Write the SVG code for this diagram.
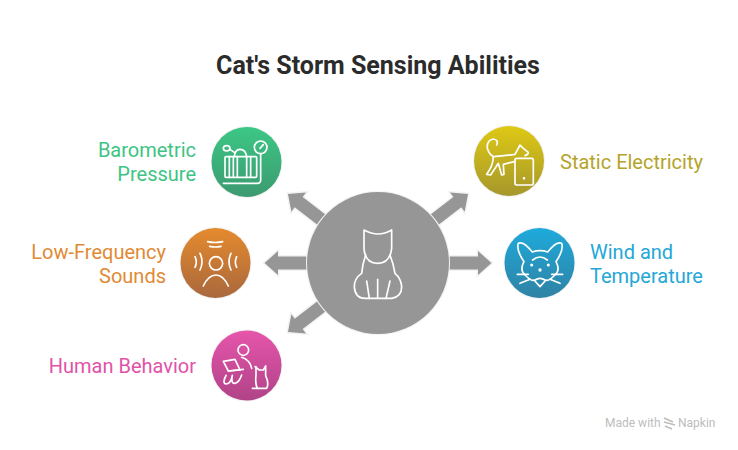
<svg xmlns="http://www.w3.org/2000/svg" width="738" height="450" viewBox="0 0 738 450">
<style>
text{font-family:Roboto,"Liberation Sans",sans-serif}
.title{font-size:25px;font-weight:700;fill:#2b2b2b;text-anchor:middle}
.lbl{font-size:20px;font-weight:400}
.e{text-anchor:end}
.disc{stroke:#f3f3f3;stroke-width:2;paint-order:stroke}
.ic{fill:none;stroke:#fff;stroke-width:5;stroke-linecap:round;stroke-linejoin:round}
.dot{fill:#fff}
.arrow{fill:#969696;stroke:#f3f3f3;stroke-width:3;stroke-linejoin:miter;paint-order:stroke}
.wm{font-size:12px;font-weight:400;fill:#bdbdbd}
</style>
<defs>
<linearGradient id="gG" x1="0" y1="0" x2="0" y2="1"><stop offset="0" stop-color="#3cc785"/><stop offset="1" stop-color="#3c9a70"/></linearGradient>
<linearGradient id="gO" x1="0" y1="0" x2="0" y2="1"><stop offset="0" stop-color="#e58b2e"/><stop offset="1" stop-color="#a9683d"/></linearGradient>
<linearGradient id="gP" x1="0" y1="0" x2="0" y2="1"><stop offset="0" stop-color="#e655ab"/><stop offset="1" stop-color="#b04388"/></linearGradient>
<linearGradient id="gY" x1="0" y1="0" x2="0" y2="1"><stop offset="0" stop-color="#dec914"/><stop offset="1" stop-color="#a6972c"/></linearGradient>
<linearGradient id="gB" x1="0" y1="0" x2="0" y2="1"><stop offset="0" stop-color="#1eaadb"/><stop offset="1" stop-color="#3082a4"/></linearGradient>
<path id="arr" d="M50-6.500H100V-12L113.500 0L100 12V6.500H50Z"/>
</defs>
<rect width="738" height="450" fill="#fff"/>
<text class="title" x="378" y="74">Cat's Storm Sensing Abilities</text>
<g id="connectors">
<use href="#arr" class="arrow" transform="translate(378 263) rotate(180)"/>
<use href="#arr" class="arrow" transform="translate(378 263)"/>
<use href="#arr" class="arrow" transform="translate(378 263) rotate(217.500)"/>
<use href="#arr" class="arrow" transform="translate(378 263) rotate(142.500)"/>
<use href="#arr" class="arrow" transform="translate(378 263) rotate(-37.500)"/>
</g>
<g id="center">
<circle cx="378" cy="263" r="71" fill="#969696" class="disc"/>
<g class="ic" transform="translate(300 185) scale(.3333)">
<path d="M192 135Q215 147 233 147Q255 147 275 135L275 190Q270 235 233 235Q195 235 192 190Z"/>
<path d="M197 210Q188 235 185 265Q163 280 163 305Q165 340 195 340H275Q305 335 305 305Q303 280 285 265Q280 235 270 210"/>
<path d="M200 288L208 340M233 283V340M270 288L258 340"/>
</g>
</g>
<g id="barometric">
<circle cx="246.500" cy="162" r="35" fill="url(#gG)" class="disc"/>
<g class="ic" transform="translate(200 115) scale(.3333)">
<rect x="75" y="125" width="95" height="62" rx="3"/>
<path d="M88 125V187M100 125V187M112 125V187M140 125V187M152 125V187"/>
<path d="M103 125Q105 103 120 103Q137 103 140 125"/>
<ellipse cx="80" cy="100" rx="10" ry="8"/>
<path d="M90 103L103 112"/>
<circle cx="182" cy="97" r="19"/>
<path d="M180 100L190 89"/>
<path d="M182 117V195Q182 205 172 205H70"/>
</g>
</g>
<g id="low-frequency">
<circle cx="215.500" cy="263" r="35" fill="url(#gO)" class="disc"/>
<g class="ic" transform="translate(170 220) scale(.3333)">
<circle cx="138" cy="130" r="20"/>
<path d="M100 198Q115 165 138 165Q160 165 175 198"/>
<path d="M113 65Q135 70 158 65M119 79Q135 83 153 79"/>
<path d="M75 110Q83 126 75 142M90 100Q102 125 90 150M183 100Q171 125 183 150M200 110Q192 126 200 142"/>
</g>
</g>
<g id="human-behavior">
<circle cx="246.500" cy="365.500" r="35" fill="url(#gP)" class="disc"/>
<g class="ic" transform="translate(200 300) scale(.3333)">
<circle cx="130" cy="150" r="16"/>
<path d="M125 172Q150 180 155 205"/>
<path d="M70 184L105 178L120 210L85 213Z"/>
<path d="M85 213L130 208"/>
<path d="M78 226Q66 250 78 252Q92 252 97 226Q92 252 105 250Q117 248 125 225"/>
<path d="M165 200L178 210H190L197 198V228Q208 250 200 265H157"/>
<path d="M168 200V225Q165 250 172 265"/>
</g>
</g>
<g id="static-electricity">
<circle cx="509" cy="161" r="35" fill="url(#gY)" class="disc"/>
<g class="ic" transform="translate(425 115) scale(.3333)">
<rect x="270" y="130" width="55" height="80" rx="5"/>
<circle class="dot" cx="297" cy="190" r="1.500"/>
<path d="M215 90Q222 75 205 72Q185 75 187 100Q192 118 205 125Q240 122 270 118L285 90L295 100L310 112Q310 120 300 122"/>
<path d="M205 125Q205 150 185 178L197 180L220 145L230 180L237 178L235 148L268 140"/>
</g>
</g>
<g id="wind-temperature">
<circle cx="539.500" cy="263" r="35" fill="url(#gB)" class="disc"/>
<g class="ic" transform="translate(440 220) scale(.3333)">
<path d="M252 125Q228 90 235 70Q250 62 277 96Q300 88 323 96Q350 62 365 70Q372 90 348 125Q362 150 345 165Q325 185 318 180L300 200L282 180Q275 185 255 165Q238 150 252 125Z"/>
<path d="M278 120Q300 102 322 120"/>
<path d="M285 180Q300 170 315 180"/>
<path d="M232 163H265M240 190L270 178M335 163H368M330 178L360 190"/>
<circle class="dot" cx="275" cy="135" r="2"/><circle class="dot" cx="325" cy="135" r="2"/><circle class="dot" cx="300" cy="150" r="2.500"/>
</g>
</g>
<text class="lbl e" x="196" y="157" fill="#3dc484">Barometric</text>
<text class="lbl e" x="196" y="181" fill="#3dc484">Pressure</text>
<text class="lbl e" x="166" y="259" fill="#e08a35">Low-Frequency</text>
<text class="lbl e" x="166" y="283" fill="#e08a35">Sounds</text>
<text class="lbl e" x="196" y="373" fill="#e152a8">Human Behavior</text>
<text class="lbl" x="560" y="169" fill="#b5a42b">Static Electricity</text>
<text class="lbl" x="590" y="259" fill="#24a7d6">Wind and</text>
<text class="lbl" x="590" y="283" fill="#24a7d6">Temperature</text>
<g id="watermark">
<text class="wm" x="605" y="427">Made with</text>
<path d="M664 418L673 422M664 422L675 425M665 426L672 429" fill="none" stroke="#bdbdbd" stroke-width="1.600"/>
<text class="wm" x="678" y="427">Napkin</text>
</g>
</svg>
